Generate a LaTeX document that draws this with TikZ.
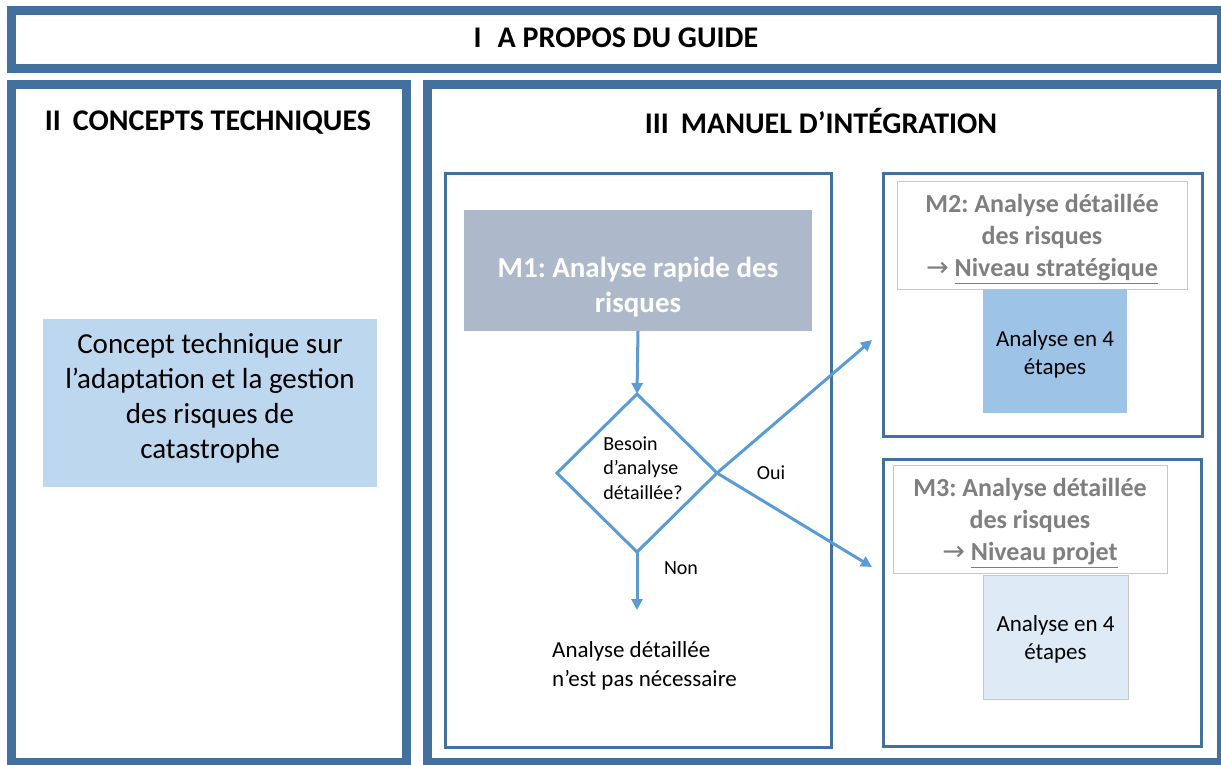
\documentclass[tikz,border=0pt]{standalone}
\usepackage{fontspec}
\setmainfont{Carlito}
\newfontfamily\arrowfont{DejaVu Sans}
\usetikzlibrary{shapes.geometric,arrows.meta,positioning}
\definecolor{frameblue}{RGB}{65,113,156}
\definecolor{flowblue}{RGB}{91,155,213}
\definecolor{mgrey}{RGB}{173,185,202}
\definecolor{conceptblue}{RGB}{189,215,238}
\definecolor{stepblue}{RGB}{157,195,230}
\definecolor{steppale}{RGB}{222,235,247}
\definecolor{headgrey}{RGB}{127,127,127}
\definecolor{thingrey}{RGB}{200,200,200}
\newcommand{\headarrow}{{\mdseries\arrowfont\fontsize{27}{32}\selectfont →}}
\tikzset{
  bigframe/.style={draw=frameblue,line width=9pt,inner sep=0pt,outer sep=0pt},
  subframe/.style={draw=frameblue,line width=3pt,inner sep=0pt,outer sep=0pt},
  sectitle/.style={font=\fontsize{30}{36}\selectfont\bfseries},
  headbox/.style={draw=thingrey,line width=0.8pt,fill=white,inner sep=0pt,outer sep=0pt},
  headtext/.style={align=center,inner sep=0pt,text=headgrey,font=\fontsize{26}{32}\selectfont\bfseries},
  stepbox/.style={inner sep=0pt,outer sep=0pt},
  steptext/.style={inner sep=0pt,align=center,font=\fontsize{23}{28}\selectfont},
  decision/.style={diamond,draw=flowblue,line width=3pt,inner sep=0pt,outer sep=0pt,
    minimum width=160pt,minimum height=158pt},
  flow/.style={draw=flowblue,line width=3pt,-{Triangle[length=11pt,width=11pt]}},
  small/.style={font=\fontsize{20}{24.5}\selectfont}
}
\begin{document}
\frenchspacing
\begin{tikzpicture}[x=1pt,y=-1pt]
\useasboundingbox (0,0) rectangle (1221,765);
% big frames
\node[bigframe,minimum width=1210pt,minimum height=58pt] (frameI) at (616.5,39.5) {};
\node[bigframe,minimum width=395pt,minimum height=677.5pt] (frameII) at (209,423.25) {};
\node[bigframe,minimum width=794pt,minimum height=677.5pt] (frameIII) at (824.5,423.25) {};
\node[sectitle] (titleI) at (616,38) {I\hspace{16pt}A PROPOS DU GUIDE};
\node[sectitle] (titleII) at (208,123) {II\hspace{12pt}CONCEPTS TECHNIQUES};
\node[sectitle] (titleIII) at (821,121) {III\hspace{12pt}MANUEL D’INTÉGRATION};
% concept
\node[fill=conceptblue,minimum width=334pt,minimum height=168pt,inner sep=0pt] (concept) at (210,403) {};
\node[align=center,inner sep=0pt,font=\fontsize{29}{35}\selectfont] (concepttext) at (210,398)
  {Concept technique sur\\l’adaptation et la gestion\\des risques de\\catastrophe};
% M1 flow
\node[subframe,minimum width=386.5pt,minimum height=574pt] (m1frame) at (638.25,460.5) {};
\node[fill=mgrey,minimum width=348pt,minimum height=121pt,inner sep=0pt,outer sep=0pt] (m1) at (638,270.5) {};
\node[text=white,inner sep=0pt,align=center,font=\fontsize{29}{35}\selectfont\bfseries] (m1text) at (638,287)
  {M1: Analyse rapide des\\risques};
\node[decision] (dia) at (637,473) {};
\node[small,align=left,inner sep=0pt] (diatext) at (643,468) {Besoin\\d’analyse\\détaillée?};
\coordinate (nonend) at (637,610);
\node[inner sep=0pt,anchor=west,align=left,font=\fontsize{23}{29}\selectfont] (nonote) at (552,666)
  {Analyse détaillée\\n’est pas nécessaire};
\node[small] (oui) at (771,473) {Oui};
\node[small] (non) at (681,568) {Non};
% M2 and M3
\node[subframe,minimum width=319pt,minimum height=262.5pt] (m2frame) at (1043,304.75) {};
\node[headbox,minimum width=290pt,minimum height=108pt] (m2head) at (1042,235) {};
\node[headtext] (m2text) at (1042,239)
  {M2: Analyse détaillée\\des risques\\\headarrow\ \underline{Niveau stratégique}};
\node[stepbox,fill=stepblue,minimum width=144pt,minimum height=124pt] (m2box) at (1055,351) {};
\node[steptext] (m2steps) at (1055,354) {Analyse en 4\\étapes};
\node[subframe,minimum width=318pt,minimum height=287pt] (m3frame) at (1042.5,603) {};
\node[headbox,minimum width=274pt,minimum height=108pt] (m3head) at (1030,519) {};
\node[headtext] (m3text) at (1030,523)
  {M3: Analyse détaillée\\des risques\\\headarrow\ \underline{Niveau projet}};
\node[stepbox,fill=steppale,draw=thingrey,line width=0.8pt,minimum width=145pt,minimum height=124pt] (m3box) at (1055.5,637) {};
\node[steptext] (m3steps) at (1055.5,639) {Analyse en 4\\étapes};
\coordinate (m2in) at (872,340);
\coordinate (m3in) at (872,567);
% connectors
\draw[flow] (m1.south) -- (dia.north);
\draw[flow] (dia.south) -- (nonend);
\draw[flow] (dia.east) -- (m2in);
\draw[flow] (dia.east) -- (m3in);
\end{tikzpicture}
\end{document}
